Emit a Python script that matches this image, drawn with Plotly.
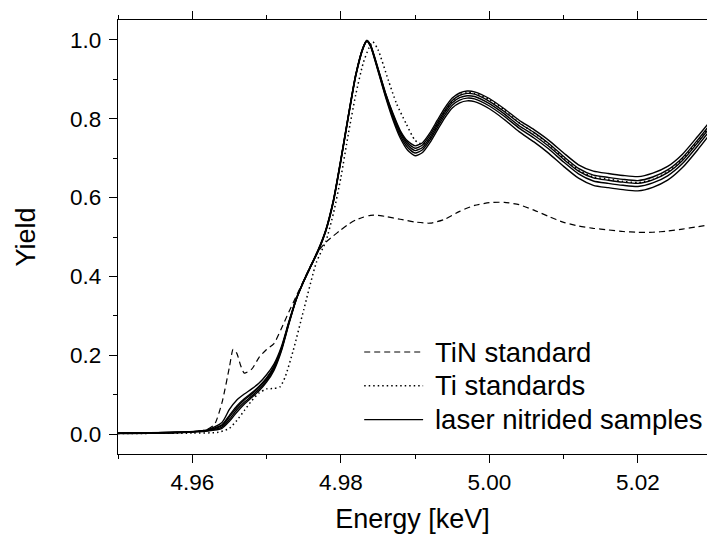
import plotly.graph_objects as go

# ---------------- data ----------------
energy_samples = [4.950, 4.958, 4.962, 4.964, 4.965, 4.966, 4.967, 4.968, 4.969, 4.970,
                  4.971, 4.972, 4.973, 4.974, 4.975, 4.976, 4.977, 4.978, 4.979, 4.980,
                  4.981, 4.982, 4.983, 4.9835, 4.984, 4.985, 4.986, 4.987, 4.988, 4.989,
                  4.990, 4.991, 4.992, 4.993, 4.994, 4.995, 4.996, 4.997, 4.998, 5.000,
                  5.002, 5.004, 5.006, 5.008, 5.010, 5.012, 5.014, 5.016, 5.018, 5.020,
                  5.022, 5.024, 5.026, 5.028, 5.030]

sample_1 = [0.003, 0.005, 0.011, 0.030, 0.063, 0.087, 0.102, 0.115, 0.130, 0.151,
            0.178, 0.222, 0.285, 0.344, 0.389, 0.429, 0.470, 0.520, 0.594, 0.697,
            0.807, 0.911, 0.980, 0.998, 0.987, 0.928, 0.866, 0.814, 0.770, 0.743,
            0.731, 0.739, 0.764, 0.796, 0.827, 0.852, 0.865, 0.870, 0.868, 0.851,
            0.825, 0.796, 0.772, 0.745, 0.713, 0.683, 0.667, 0.661, 0.656, 0.653,
            0.662, 0.679, 0.710, 0.754, 0.800]
sample_2 = [0.003, 0.005, 0.010, 0.022, 0.044, 0.068, 0.087, 0.102, 0.119, 0.140,
            0.170, 0.216, 0.282, 0.343, 0.388, 0.428, 0.468, 0.518, 0.592, 0.695,
            0.806, 0.911, 0.981, 0.998, 0.986, 0.927, 0.865, 0.812, 0.767, 0.738,
            0.725, 0.733, 0.758, 0.790, 0.821, 0.846, 0.859, 0.864, 0.862, 0.844,
            0.818, 0.789, 0.765, 0.737, 0.704, 0.674, 0.657, 0.651, 0.646, 0.643,
            0.652, 0.670, 0.701, 0.745, 0.792]
sample_3 = [0.003, 0.005, 0.010, 0.024, 0.048, 0.072, 0.090, 0.105, 0.122, 0.143,
            0.172, 0.218, 0.283, 0.343, 0.388, 0.428, 0.468, 0.518, 0.592, 0.695,
            0.805, 0.910, 0.980, 0.997, 0.985, 0.925, 0.862, 0.808, 0.763, 0.733,
            0.719, 0.727, 0.752, 0.784, 0.815, 0.840, 0.853, 0.858, 0.856, 0.838,
            0.812, 0.782, 0.758, 0.730, 0.697, 0.667, 0.650, 0.644, 0.639, 0.636,
            0.645, 0.663, 0.694, 0.738, 0.785]
sample_4 = [0.003, 0.005, 0.009, 0.018, 0.038, 0.062, 0.081, 0.097, 0.114, 0.136,
            0.166, 0.214, 0.281, 0.342, 0.387, 0.427, 0.467, 0.517, 0.590, 0.693,
            0.803, 0.908, 0.979, 0.996, 0.984, 0.923, 0.859, 0.803, 0.757, 0.727,
            0.713, 0.721, 0.746, 0.778, 0.809, 0.834, 0.847, 0.852, 0.850, 0.832,
            0.806, 0.776, 0.751, 0.723, 0.690, 0.660, 0.642, 0.636, 0.631, 0.628,
            0.637, 0.655, 0.686, 0.730, 0.777]
sample_5 = [0.002, 0.004, 0.008, 0.015, 0.033, 0.056, 0.076, 0.093, 0.110, 0.132,
            0.162, 0.211, 0.279, 0.341, 0.387, 0.427, 0.466, 0.516, 0.589, 0.692,
            0.802, 0.907, 0.978, 0.996, 0.983, 0.921, 0.856, 0.798, 0.751, 0.720,
            0.706, 0.714, 0.739, 0.771, 0.802, 0.827, 0.840, 0.845, 0.843, 0.825,
            0.798, 0.767, 0.741, 0.712, 0.679, 0.649, 0.631, 0.625, 0.620, 0.617,
            0.626, 0.644, 0.676, 0.720, 0.768]

energy_ti = [4.950, 4.960, 4.9635, 4.965, 4.966, 4.967, 4.968, 4.969, 4.970, 4.971,
             4.9718, 4.9725, 4.9736, 4.975, 4.9767, 4.978, 4.979, 4.980, 4.981, 4.982,
             4.983, 4.9838, 4.9843, 4.985, 4.9864, 4.9875, 4.9888, 4.990, 4.991, 4.992,
             4.993, 4.994, 4.995, 4.996, 4.997, 4.998, 5.000, 5.002, 5.004, 5.006,
             5.008, 5.010, 5.012, 5.014, 5.016, 5.018, 5.020, 5.022, 5.024, 5.026,
             5.028, 5.030]
ti_standards = [0.002, 0.003, 0.005, 0.015, 0.035, 0.060, 0.085, 0.105, 0.115, 0.116,
                0.120, 0.145, 0.213, 0.315, 0.435, 0.490, 0.560, 0.650, 0.760, 0.860,
                0.940, 0.980, 0.995, 0.975, 0.897, 0.838, 0.787, 0.745, 0.735, 0.748,
                0.785, 0.818, 0.845, 0.860, 0.866, 0.864, 0.848, 0.822, 0.790, 0.764,
                0.735, 0.700, 0.670, 0.652, 0.647, 0.641, 0.638, 0.646, 0.665, 0.697,
                0.741, 0.788]

energy_tin = [4.950, 4.958, 4.961, 4.962, 4.963, 4.964, 4.965, 4.9655, 4.966, 4.9665,
              4.967, 4.968, 4.969, 4.970, 4.971, 4.972, 4.973, 4.974, 4.975, 4.976,
              4.977, 4.978, 4.979, 4.980, 4.981, 4.982, 4.983, 4.984, 4.985, 4.986,
              4.988, 4.990, 4.992, 4.994, 4.996, 4.998, 5.000, 5.002, 5.004, 5.006,
              5.008, 5.010, 5.012, 5.014, 5.016, 5.018, 5.020, 5.022, 5.024, 5.026,
              5.028, 5.030]
tin_standard = [0.002, 0.004, 0.008, 0.012, 0.025, 0.080, 0.170, 0.215, 0.205, 0.175,
                0.155, 0.165, 0.195, 0.215, 0.230, 0.268, 0.310, 0.350, 0.390, 0.430,
                0.465, 0.487, 0.503, 0.518, 0.532, 0.543, 0.550, 0.555, 0.555, 0.552,
                0.545, 0.538, 0.535, 0.545, 0.565, 0.580, 0.587, 0.588, 0.582, 0.568,
                0.552, 0.537, 0.528, 0.522, 0.518, 0.514, 0.512, 0.512, 0.515, 0.520,
                0.526, 0.532]

legend_labels = ["TiN standard", "Ti standards", "laser nitrided samples"]
x_tick_values = [4.96, 4.98, 5.00, 5.02]
y_tick_values = [0.0, 0.2, 0.4, 0.6, 0.8, 1.0]

# ---------------- figure ----------------
FONT = "Liberation Sans, Arial, sans-serif"
fig = go.Figure()

for ys in [sample_1, sample_2, sample_3, sample_4, sample_5]:
    fig.add_trace(go.Scatter(
        x=energy_samples, y=ys, mode="lines",
        line=dict(color="black", width=1.4, shape="spline", smoothing=0.6),
        name=legend_labels[2], showlegend=False, hoverinfo="skip"))

fig.add_trace(go.Scatter(
    x=energy_ti, y=ti_standards, mode="lines",
    line=dict(color="black", width=1.5, dash="1.5px,3px", shape="spline", smoothing=0.6),
    name=legend_labels[1], showlegend=False))

fig.add_trace(go.Scatter(
    x=energy_tin, y=tin_standard, mode="lines",
    line=dict(color="black", width=1.2, dash="6px,4px", shape="spline", smoothing=0.6),
    name=legend_labels[0], showlegend=False))

# custom legend (paper coordinates)
leg_x0, leg_x1, text_x = 0.418, 0.518, 0.534
leg_rows = [0.235, 0.157, 0.079]
leg_dash = ["6px,4px", "1.5px,3px", "solid"]
leg_width = [1.2, 1.5, 1.2]
for lab, yy, dsh, w in zip(legend_labels, leg_rows, leg_dash, leg_width):
    fig.add_shape(type="line", xref="paper", yref="paper",
                  x0=leg_x0, x1=leg_x1, y0=yy, y1=yy,
                  line=dict(color="black", width=w, dash=dsh))
    fig.add_annotation(xref="paper", yref="paper", x=text_x, y=yy,
                       text=lab, showarrow=False, xanchor="left", yanchor="middle",
                       font=dict(family=FONT, size=27.5, color="black"))

axis_common = dict(
    showgrid=False, zeroline=False, showline=True, linecolor="black", linewidth=1.3,
    ticks="outside", tickcolor="black", tickwidth=1.3, ticklen=8,
    tickfont=dict(family=FONT, size=22.5, color="black"),
)

fig.update_xaxes(
    **axis_common, range=[4.95, 5.0293], tickvals=x_tick_values, tickformat=".2f",
    mirror="ticks",
    minor=dict(dtick=0.01, tick0=4.95, ticks="outside", ticklen=4, tickwidth=1.3,
               tickcolor="black"),
    title=dict(text="Energy [keV]", font=dict(family=FONT, size=27, color="black"),
               standoff=14),
)
fig.update_yaxes(
    **axis_common, range=[-0.05, 1.05], tickvals=y_tick_values, tickformat=".1f",
    ticklabelstandoff=3,
    minor=dict(dtick=0.1, tick0=0, ticks="outside", ticklen=4, tickwidth=1.3,
               tickcolor="black"),
    title=dict(text="Yield", font=dict(family=FONT, size=27, color="black"),
               standoff=26),
)

fig.update_layout(
    width=707, height=537,
    margin=dict(l=118, r=0, t=20, b=83),
    plot_bgcolor="white", paper_bgcolor="white",
    showlegend=False,
)

fig.write_html(
    "out.html",
    config={"displayModeBar": False},
    post_script="document.body.style.margin='0';document.body.style.overflow='hidden';",
)
